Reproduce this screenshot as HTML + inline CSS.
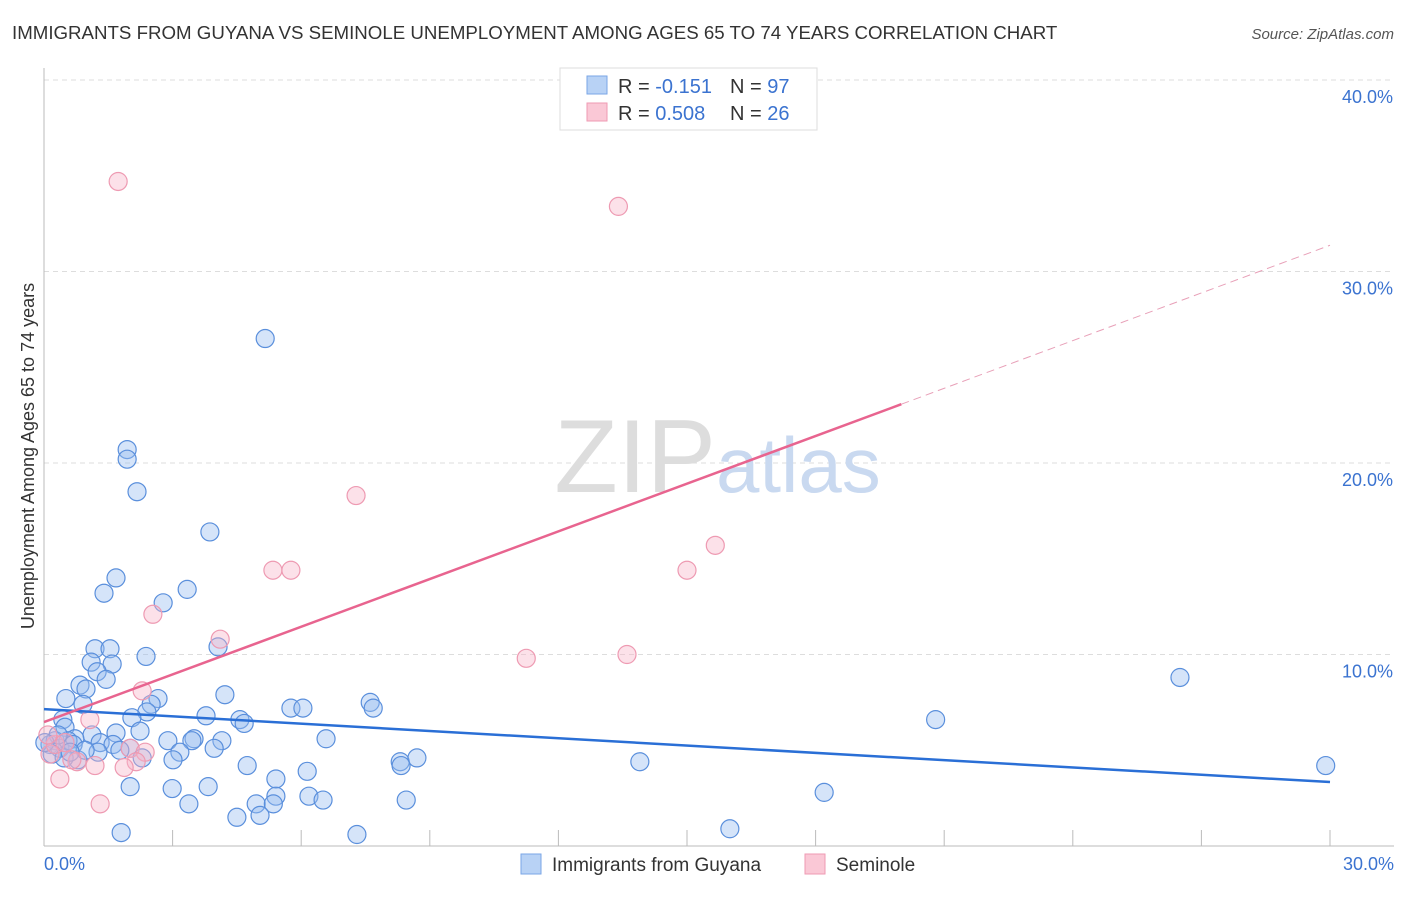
<!DOCTYPE html>
<html><head><meta charset="utf-8"><style>
body{margin:0;background:#fff;font-family:"Liberation Sans",sans-serif}
svg text{font-family:"Liberation Sans",sans-serif}
</style></head><body>
<svg width="1406" height="892" xmlns="http://www.w3.org/2000/svg">
<text x="12" y="39" font-size="18.7" fill="#333">IMMIGRANTS FROM GUYANA VS SEMINOLE UNEMPLOYMENT AMONG AGES 65 TO 74 YEARS CORRELATION CHART</text>
<text x="1394" y="39" font-size="15" fill="#555" font-style="italic" text-anchor="end">Source: ZipAtlas.com</text>
<g id="grid"></g>
<text x="716" y="492" font-size="104" fill="#ddd" text-anchor="end" font-family="Liberation Serif">ZIP</text>
<text x="716" y="492" font-size="78" fill="#c9d9f0">atlas</text>
<g id="pts"></g>
<g id="lines"></g>
<text transform="translate(34,456) rotate(-90)" font-size="18" fill="#333" text-anchor="middle">Unemployment Among Ages 65 to 74 years</text>
<text x="44" y="870" font-size="18" fill="#3b73d0">0.0%</text>
<text x="1394" y="870" font-size="18" fill="#3b73d0" text-anchor="end">30.0%</text>
<g>
<rect x="560" y="68" width="257" height="62" fill="#fff" stroke="#ddd"/>
<rect x="587" y="76" width="20" height="18" fill="#b8d2f5" stroke="#7aa6e6"/>
<rect x="587" y="103" width="20" height="18" fill="#fac8d6" stroke="#ef9ab3"/>
<text x="618" y="93" font-size="20" fill="#333">R = <tspan fill="#3b73d0">-0.151</tspan></text>
<text x="730" y="93" font-size="20" fill="#333">N = <tspan fill="#3b73d0">97</tspan></text>
<text x="618" y="120" font-size="20" fill="#333">R = <tspan fill="#3b73d0">0.508</tspan></text>
<text x="730" y="120" font-size="20" fill="#333">N = <tspan fill="#3b73d0">26</tspan></text>
</g>
<g>
<rect x="521" y="854" width="20" height="20" fill="#b8d2f5" stroke="#7aa6e6"/>
<text x="552" y="871" font-size="19" fill="#333">Immigrants from Guyana</text>
<rect x="805" y="854" width="20" height="20" fill="#fac8d6" stroke="#ef9ab3"/>
<text x="836" y="871" font-size="19" fill="#333">Seminole</text>
</g>
</svg>
<script>
const yTicks=[10,20,30,40];
const yTickLabels=["10.0%","20.0%","30.0%","40.0%"];
const xTicks=[3,6,9,12,15,18,21,24,27,30];
const guyanaX=[5.16,1.94,1.94,2.17,3.87,1.68,1.40,3.34,2.78,1.19,1.54,4.06,2.38,1.10,1.59,1.24,1.45,0.84,0.98,0.51,2.66,4.22,0.91,2.50,2.40,3.78,2.05,5.76,6.04,7.61,7.68,0.44,4.57,4.67,2.24,1.68,1.12,0.49,0.72,2.89,3.50,3.45,4.15,6.58,1.31,1.61,2.01,3.17,3.97,1.77,1.26,2.29,3.01,8.31,8.70,8.33,4.74,5.41,6.14,2.01,2.99,3.83,5.41,6.18,6.51,3.38,4.95,5.35,8.45,4.50,5.04,1.80,7.30,13.9,20.8,26.5,29.9,18.2,16.0,0.14,0.26,0.37,0.56,0.68,0.19,0.79,0.96,0.33,0.02,0.47,0.61];
const guyanaY=[26.5,20.7,20.2,18.5,16.4,14.0,13.2,13.4,12.7,10.3,10.3,10.4,9.9,9.6,9.5,9.1,8.7,8.4,8.2,7.7,7.7,7.9,7.4,7.4,7.0,6.8,6.7,7.2,7.2,7.5,7.2,6.6,6.6,6.4,6.0,5.9,5.8,6.2,5.6,5.5,5.6,5.5,5.5,5.6,5.4,5.3,5.1,4.9,5.1,5.0,4.9,4.6,4.5,4.4,4.6,4.2,4.2,3.5,3.9,3.1,3.0,3.1,2.6,2.6,2.4,2.2,2.2,2.2,2.4,1.5,1.6,0.7,0.6,4.4,6.6,8.8,4.2,2.8,0.9,5.3,5.5,5.1,5.5,5.3,4.8,4.5,5.0,5.8,5.4,4.6,4.9];
const seminoleX=[1.73,13.4,7.28,15.66,5.34,5.76,15.0,2.54,4.11,11.25,13.6,2.29,1.07,2.01,2.36,2.15,1.87,1.19,0.77,0.37,1.31,0.14,0.26,0.49,0.09,0.65];
const seminoleY=[34.7,33.4,18.3,15.7,14.4,14.4,14.4,12.1,10.8,9.8,10.0,8.1,6.6,5.1,4.9,4.4,4.1,4.2,4.4,3.5,2.2,4.8,5.3,5.4,5.8,4.5];
const guyanaTrend=[7.15,3.34];
const seminoleTrend=[6.47,0.83];
const NS='http://www.w3.org/2000/svg';
const X=v=>44+v*1286/30, Y=v=>846-v*19.15;
function mk(t,a,p){const e=document.createElementNS(NS,t);for(const k in a)e.setAttribute(k,a[k]);p.appendChild(e);return e;}
const grid=document.getElementById('grid');
yTicks.forEach((t,i)=>{
 const l=mk('line',{x1:44,x2:1394,y1:Y(t),y2:Y(t),stroke:'#ddd','stroke-dasharray':'5,4'},grid);
 
 
 const tx=mk('text',{x:1393,y:Y(t)+23,'font-size':18,fill:'#3b73d0','text-anchor':'end'},grid);
 tx.textContent=yTickLabels[i];
 
 
});
mk('line',{x1:44,x2:44,y1:68,y2:846,stroke:'#bbb'},grid);
mk('line',{x1:44,x2:1394,y1:846,y2:846,stroke:'#bbb'},grid);
xTicks.forEach(t=>{
 const l=mk('line',{x1:X(t),x2:X(t),y1:830,y2:846,stroke:'#bbb'},grid);
 
 
});
const pts=document.getElementById('pts');
guyanaX.forEach((x,i)=>{
 const c=mk('circle',{cx:X(x),cy:Y(guyanaY[i]),r:9,fill:'rgba(150,188,240,0.4)',stroke:'#5a8fdc','stroke-width':1.2},pts);
 
 
});
seminoleX.forEach((x,i)=>{
 const c=mk('circle',{cx:X(x),cy:Y(seminoleY[i]),r:9,fill:'rgba(248,180,200,0.4)',stroke:'#ee9ab2','stroke-width':1.2},pts);
 
 
});
const lines=document.getElementById('lines');
const b=mk('line',{x1:X(0),y1:Y(guyanaTrend[0]),x2:X(30),y2:Y(guyanaTrend[1]),stroke:'#2a6fd6','stroke-width':2.5},lines);


const s=mk('line',{x1:X(0),y1:Y(seminoleTrend[0]),x2:X(20),y2:Y(seminoleTrend[0]+20*seminoleTrend[1]),stroke:'#e8648f','stroke-width':2.5},lines);


const d=mk('line',{x1:X(20),y1:Y(seminoleTrend[0]+20*seminoleTrend[1]),x2:X(30),y2:Y(seminoleTrend[0]+30*seminoleTrend[1]),stroke:'#e8a0b8','stroke-width':1,'stroke-dasharray':'8,5'},lines);


</script>
</body></html>
